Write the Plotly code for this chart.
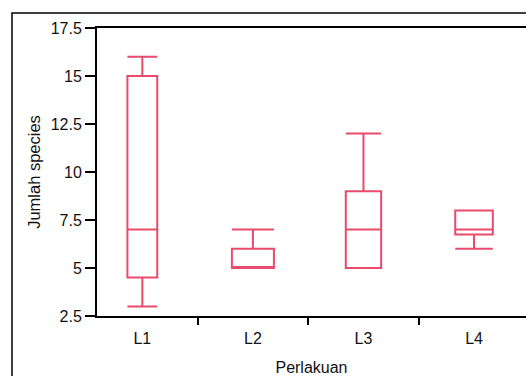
import plotly.graph_objects as go

categories = ["L1", "L2", "L3", "L4"]
mins = [3, 5, 5, 6]
q1s = [4.5, 5, 5, 6.75]
medians = [7, 5, 7, 7]
q3s = [15, 6, 9, 8]
maxs = [16, 7, 12, 8]
box_widths = [0.27, 0.38, 0.32, 0.34]
y_ticks = [2.5, 5, 7.5, 10, 12.5, 15, 17.5]
y_tick_text = ["2.5", "5", "7.5", "10", "12.5", "15", "17.5"]

color = "#EA4A6C"
font_family = "Liberation Sans, Arial, sans-serif"

fig = go.Figure()
for i, c in enumerate(categories):
    fig.add_trace(go.Box(
        x=[c], q1=[q1s[i]], median=[medians[i]], q3=[q3s[i]],
        lowerfence=[mins[i]], upperfence=[maxs[i]],
        width=box_widths[i], whiskerwidth=1,
        line=dict(color=color, width=2), fillcolor="rgba(255,255,255,0)",
        boxpoints=False, showlegend=False, hoverinfo="skip",
    ))

fig.update_layout(
    width=526, height=376,
    margin=dict(l=97, r=0, t=28, b=60),
    paper_bgcolor="white", plot_bgcolor="white",
    font=dict(family=font_family, size=16, color="#111111"),
    showlegend=False,
)
fig.update_xaxes(
    type="category", categoryorder="array", categoryarray=categories,
    range=[-0.41, 3.47], tickson="boundaries", ticks="outside", ticklen=7,
    tickwidth=1.5, tickcolor="black", ticklabelstandoff=7,
    showline=True, linecolor="black", linewidth=2, mirror=True,
    showgrid=False, zeroline=False,
    title=dict(text="Perlakuan", standoff=16, font=dict(size=16)),
)
fig.update_yaxes(
    range=[2.5, 17.5], tickvals=y_ticks, ticktext=y_tick_text,
    ticks="outside", ticklen=10, tickwidth=2, tickcolor="black",
    showline=True, linecolor="black", linewidth=2,
    showgrid=False, zeroline=False,
    title=dict(text="Jumlah species", standoff=6, font=dict(size=16.5)),
)
fig.add_shape(type="rect", xref="paper", yref="paper",
              x0=(12 - 97) / 429, x1=1.2, y0=-0.5, y1=(316 - 13) / 288,
              line=dict(color="black", width=1.5), layer="above")

fig.write_html("out.html")
